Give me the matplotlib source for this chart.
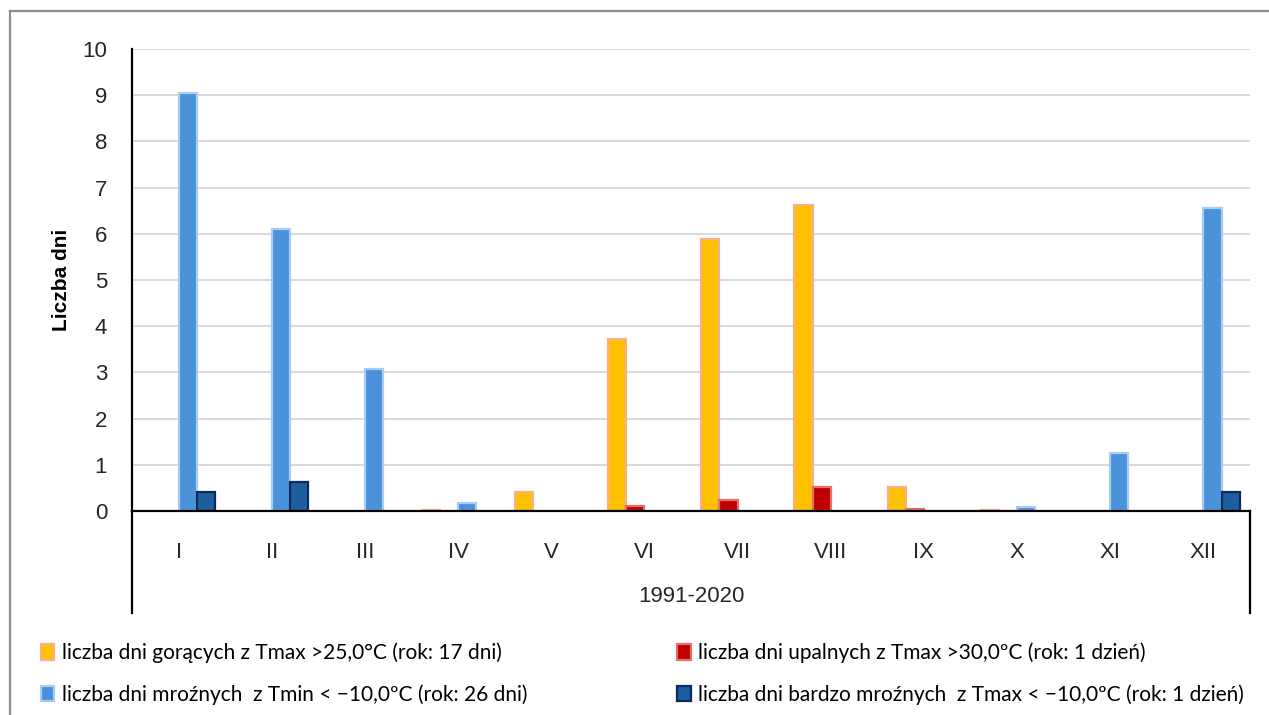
import matplotlib

matplotlib.use("Agg")
import matplotlib.pyplot as plt
from matplotlib.lines import Line2D
from matplotlib.patches import Patch
import numpy as np

plt.rcParams["font.family"] = ["Liberation Sans", "DejaVu Sans"]

MONTHS = ["I", "II", "III", "IV", "V", "VI", "VII", "VIII", "IX", "X", "XI", "XII"]
PERIOD = "1991-2020"

hot_days = [0, 0, 0, 0.02, 0.41, 3.72, 5.89, 6.62, 0.52, 0.02, 0, 0]
scorching_days = [0, 0, 0, 0, 0, 0.10, 0.24, 0.52, 0.04, 0, 0, 0]
frost_days = [9.05, 6.10, 3.07, 0.17, 0, 0, 0, 0, 0, 0.08, 1.26, 6.56]
severe_frost_days = [0.42, 0.63, 0, 0, 0, 0, 0, 0, 0, 0, 0, 0.41]

SERIES_LABELS = [
    "liczba dni gorących z Tmax >25,0°C (rok: 17 dni)",
    "liczba dni upalnych z Tmax >30,0ºC (rok: 1 dzień)",
    "liczba dni mroźnych  z Tmin < \u221210,0ºC (rok: 26 dni)",
    "liczba dni bardzo mroźnych  z Tmax < \u221210,0ºC (rok: 1 dzień)",
]
FILLS = ["#FFC000", "#C00000", "#4A92DA", "#1F5E9E"]
EDGES = ["#F5B08C", "#E0706A", "#A8CDF0", "#0C2A5E"]

W, H = 1269, 715
fig = plt.figure(figsize=(W / 100, H / 100), dpi=100)
ax = fig.add_axes([132 / W, 1 - 511 / H, (1250 - 132) / W, (511 - 49) / H])

x = np.arange(len(MONTHS))
width = 0.195
all_series = [hot_days, scorching_days, frost_days, severe_frost_days]
for i, vals in enumerate(all_series):
    lw = [1.6 if v > 0 else 0 for v in vals]
    ax.bar(x + (i - 1.5) * width, vals, width, color=FILLS[i],
           edgecolor=EDGES[i], linewidth=lw, zorder=3)

ax.set_xlim(-0.5, len(MONTHS) - 0.5)
ax.set_ylim(0, 10)
ax.set_yticks(range(0, 11))
ax.tick_params(axis="y", length=0, pad=18, labelsize=16, labelcolor="#262626")
ax.set_xticks(x)
ax.set_xticklabels(MONTHS)
ax.tick_params(axis="x", length=0, pad=22, labelsize=16, labelcolor="#262626")
ax.grid(axis="y", color="#D9D9D9", linewidth=1.4, zorder=0)
ax.set_axisbelow(True)

for side in ["top", "right"]:
    ax.spines[side].set_visible(False)
for side in ["left", "bottom"]:
    ax.spines[side].set_linewidth(1.6)
    ax.spines[side].set_color("black")
    ax.spines[side].set_zorder(4)

ax.set_ylabel("Liczba dni", fontsize=15, fontweight="bold", labelpad=8)

# multi-level category box under the x axis
box_bottom = (511 - 613) / (511 - 49)
for xv in (0, 1):
    ax.add_line(Line2D([xv, xv], [0, box_bottom], transform=ax.transAxes,
                       color="black", linewidth=1.6, clip_on=False))
ax.text(0.5, (511 - 596) / (511 - 49), PERIOD, transform=ax.transAxes,
        ha="center", va="center", fontsize=16, color="#262626")

handles = [Patch(facecolor=FILLS[i], edgecolor=EDGES[i], linewidth=1.6)
           for i in range(4)]
order = [0, 2, 1, 3]
fig.legend([handles[i] for i in order], [SERIES_LABELS[i] for i in order],
           ncol=2, loc="upper left", bbox_to_anchor=(22 / W, 1 - 624 / H),
           frameon=False, handlelength=0.65, handleheight=0.75,
           handletextpad=0.35, columnspacing=7.2, labelspacing=1.0,
           prop={"family": ["Lato", "DejaVu Sans"], "size": 15})

# outer frame (left and top edges)
fig.add_artist(Line2D([10 / W, 10 / W], [0, 1 - 11 / H], color="#8C8C8C",
                      linewidth=1.6))
fig.add_artist(Line2D([10 / W, 1], [1 - 11 / H, 1 - 11 / H], color="#8C8C8C",
                      linewidth=1.6))

fig.savefig("out.png", dpi=100)
